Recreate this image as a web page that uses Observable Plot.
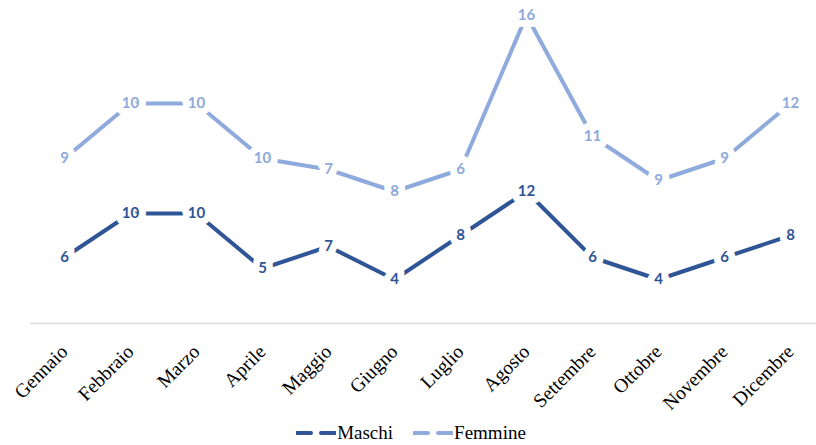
<!DOCTYPE html>
<html>
<head>
<meta charset="utf-8">
<script src="https://cdn.jsdelivr.net/npm/d3@7"></script>
<script src="https://cdn.jsdelivr.net/npm/@observablehq/plot@0.6"></script>
<style>
  html, body { margin: 0; padding: 0; background: #fff; }
  #chart { width: 816px; }
  .legend { display: flex; justify-content: center; gap: 20px; font-family: "Liberation Serif", serif; font-size: 19px; color: #000; height: 20px; line-height: 20px; align-items: center; margin-top: -4px; padding-left: 6px; }
  .legend span { display: inline-flex; align-items: center; }
  .legend svg { margin-right: 1px; }
</style>
</head>
<body>
<div id="chart"></div>
<script>
const months = ["Gennaio","Febbraio","Marzo","Aprile","Maggio","Giugno","Luglio","Agosto","Settembre","Ottobre","Novembre","Dicembre"];
const maschi = [6, 10, 10, 5, 7, 4, 8, 12, 6, 4, 6, 8];
const femmine = [9, 10, 10, 10, 7, 8, 6, 16, 11, 9, 9, 12];
const seriesNames = ["Maschi", "Femmine"];
const colors = ["#2F5597", "#8FAADC"];

// stacked line chart: Femmine stacked on top of Maschi
const rows = [];
months.forEach((m, i) => {
  rows.push({month: m, series: "Maschi", value: maschi[i], top: maschi[i]});
  rows.push({month: m, series: "Femmine", value: femmine[i], top: maschi[i] + femmine[i]});
});

const chart = Plot.plot({
  width: 816,
  height: 427,
  marginTop: 15,
  marginBottom: 104,
  marginLeft: 30,
  marginRight: 0,
  x: {type: "point", domain: months, range: [62, 792], padding: 0, axis: null},
  y: {domain: [0, 28], axis: null},
  color: {domain: seriesNames, range: colors},
  marks: [
    Plot.ruleY([0], {stroke: "#d9d9d9", strokeWidth: 1.3}),
    Plot.line(rows, {x: "month", y: "top", z: "series", stroke: "series", strokeWidth: 4, strokeLinecap: "butt", strokeLinejoin: "round"}),
    Plot.text(rows, {x: "month", y: "top", text: d => String(d.value), fill: "series",
      stroke: "white", strokeWidth: 14, paintOrder: "stroke", fontFamily: "Lato, sans-serif", fontWeight: "bold", fontSize: 15}),
    Plot.text(months, {x: d => d, frameAnchor: "bottom", text: d => d, rotate: -45, textAnchor: "end",
      lineAnchor: "middle", dx: 0, dy: 25, fontFamily: "Liberation Serif, serif", fontSize: 19.5, fill: "#000"})
  ]
});
document.getElementById("chart").appendChild(chart);

const legend = document.createElement("div");
legend.className = "legend";
seriesNames.forEach((s, i) => {
  const span = document.createElement("span");
  span.innerHTML = `<svg width="40" height="10"><line x1="1" y1="5" x2="39" y2="5" stroke="${colors[i]}" stroke-width="4" stroke-dasharray="14,10" stroke-linecap="round"/></svg>${s}`;
  legend.appendChild(span);
});
document.getElementById("chart").appendChild(legend);
</script>
</body>
</html>
